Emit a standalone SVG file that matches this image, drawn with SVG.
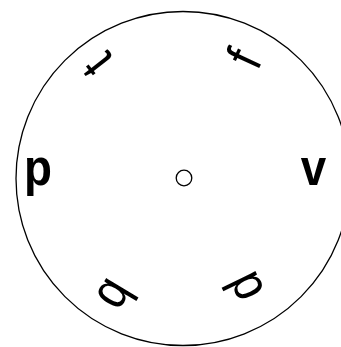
<svg xmlns="http://www.w3.org/2000/svg" width="341" height="347" viewBox="0 0 341 347">
<style>
text{font-family:"Liberation Sans",Arial,sans-serif;font-size:52px;fill:#000;text-anchor:middle}
.b{font-weight:bold}
.ring{fill:none;stroke:#000;stroke-width:1.3}
</style>
<rect width="341" height="347" fill="#fff"/>
<g id="outer"><circle class="ring" cx="183" cy="178.5" r="167"/></g>
<g id="hub"><circle class="ring" cx="184" cy="178" r="7.8" stroke-width="1.6"/></g>
<g id="letter-p" transform="translate(38,177) scale(0.88,1)"><text class="b" x="0" y="8">p</text></g>
<g id="letter-v" transform="translate(313.5,171.5) scale(0.88,1)"><text class="b" x="0" y="13.5">v</text></g>
<g id="letter-t" transform="translate(97,65) rotate(-128) scale(0.88,1)"><text x="0" y="18">t</text></g>
<g id="letter-f" transform="translate(243,58) rotate(-65) scale(0.88,1)"><text x="0" y="19">f</text></g>
<g id="letter-b" transform="translate(117,296) rotate(121) scale(0.88,1)"><text x="0" y="18.5">b</text></g>
<g id="letter-d" transform="translate(243,288) rotate(-116) scale(0.88,1)"><text x="0" y="18.5">d</text></g>
<g id="connectors"></g>
</svg>
